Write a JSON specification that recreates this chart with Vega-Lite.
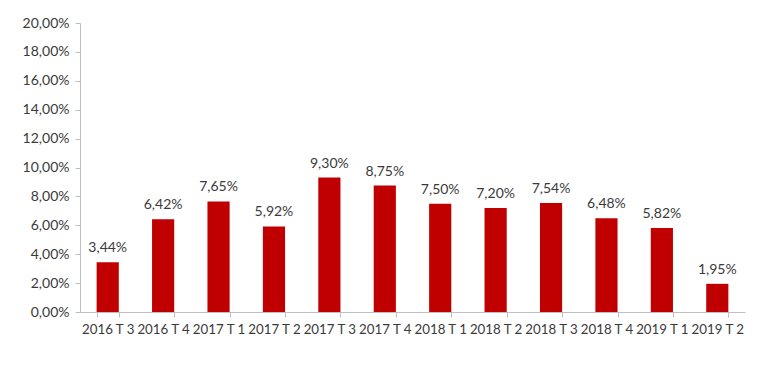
{
  "$schema": "https://vega.github.io/schema/vega-lite/v6.json",
  "autosize": {"type": "none"},
  "width": 665,
  "height": 289,
  "padding": {"left": 80, "top": 23, "right": 25, "bottom": 56},
  "background": "white",
  "config": {
    "locale": {"number": {"decimal": ",", "thousands": ".", "grouping": [3], "currency": ["", " €"]}},
    "view": {"stroke": null},
    "font": "Lato",
    "axis": {"labelFont": "Lato", "labelFontSize": 14, "labelColor": "#3A3A3A", "domainColor": "#BFBFBF", "tickColor": "#BFBFBF", "grid": false, "title": null}
  },
  "data": {"values": [
    {"period": "2016 T 3", "rate": 0.0344},
    {"period": "2016 T 4", "rate": 0.0642},
    {"period": "2017 T 1", "rate": 0.0765},
    {"period": "2017 T 2", "rate": 0.0592},
    {"period": "2017 T 3", "rate": 0.0930},
    {"period": "2017 T 4", "rate": 0.0875},
    {"period": "2018 T 1", "rate": 0.0750},
    {"period": "2018 T 2", "rate": 0.0720},
    {"period": "2018 T 3", "rate": 0.0754},
    {"period": "2018 T 4", "rate": 0.0648},
    {"period": "2019 T 1", "rate": 0.0582},
    {"period": "2019 T 2", "rate": 0.0195}
  ]},
  "encoding": {
    "x": {"field": "period", "type": "nominal", "sort": null,
      "scale": {"paddingInner": 0.6, "paddingOuter": 0.3},
      "axis": {"labelAngle": 0, "labelFontSize": 13.3, "tickBand": "extent", "tickSize": 5, "labelPadding": 5}},
    "y": {"field": "rate", "type": "quantitative",
      "scale": {"domain": [0, 0.2], "nice": false},
      "axis": {"format": ".2%", "values": [0, 0.02, 0.04, 0.06, 0.08, 0.1, 0.12, 0.14, 0.16, 0.18, 0.2], "tickSize": 5, "labelPadding": 6}}
  },
  "layer": [
    {"mark": {"type": "bar", "color": "#C00000"}},
    {"mark": {"type": "text", "baseline": "bottom", "dy": -7, "font": "Lato", "fontSize": 14, "color": "#3A3A3A"},
     "encoding": {"text": {"field": "rate", "type": "quantitative", "format": ".2%"}}}
  ]
}
